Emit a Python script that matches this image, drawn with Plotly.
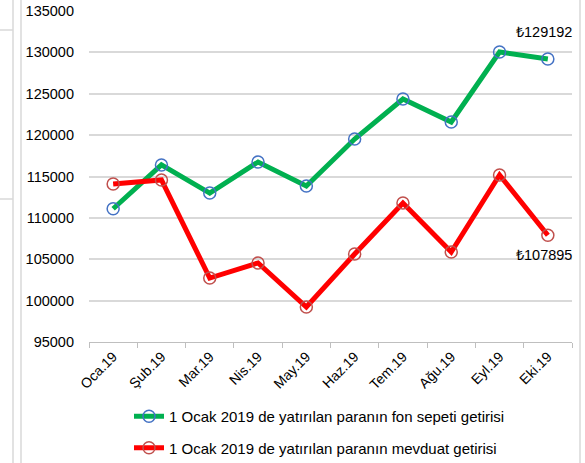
import plotly.graph_objects as go

months = ["Oca.19", "Şub.19", "Mar.19", "Nis.19", "May.19", "Haz.19", "Tem.19", "Ağu.19", "Eyl.19", "Eki.19"]
fon_sepeti = [111100, 116400, 113000, 116750, 113850, 119530, 124370, 121590, 130050, 129192]
mevduat = [114100, 114580, 102730, 104550, 99230, 105630, 111800, 105880, 115180, 107895]
name_fon = "1 Ocak 2019 de yatırılan paranın fon sepeti getirisi"
name_mev = "1 Ocak 2019 de yatırılan paranın mevduat getirisi"
y_ticks = [95000, 100000, 105000, 110000, 115000, 120000, 125000, 130000, 135000]

FONT = "Liberation Sans, Arial, sans-serif"

fig = go.Figure()
fig.add_trace(go.Scatter(
    x=months, y=fon_sepeti, name=name_fon, mode="lines+markers",
    line=dict(color="#00b050", width=5),
    marker=dict(symbol="circle-open", size=12, color="#4472c4", line=dict(width=1.5, color="#4472c4")),
    legendgroup="a",
))
fig.add_trace(go.Scatter(
    x=months, y=mevduat, name=name_mev, mode="lines+markers",
    line=dict(color="#ff0000", width=5),
    marker=dict(symbol="circle-open", size=12, color="#c0504d", line=dict(width=1.5, color="#c0504d")),
    legendgroup="b",
))

fig.add_annotation(x=months[-1], y=fon_sepeti[-1], text="₺" + str(fon_sepeti[-1]),
                   showarrow=False, xanchor="center", yanchor="bottom", yshift=17, xshift=-4,
                   font=dict(family=FONT, size=14.5, color="#000000"))
fig.add_annotation(x=months[-1], y=mevduat[-1], text="₺" + str(mevduat[-1]),
                   showarrow=False, xanchor="center", yanchor="top", yshift=-10, xshift=-4,
                   font=dict(family=FONT, size=14.5, color="#000000"))

# spreadsheet frame lines
for x0 in [13, 21, 580]:
    fig.add_shape(type="line", xref="paper", yref="paper",
                  x0=(x0 - 89) / 483, x1=(x0 - 89) / 483, y0=-2, y1=2,
                  line=dict(color="#d9d9d9", width=1.5), layer="below")
for yy in [30, 199]:
    fig.add_shape(type="line", xref="paper", yref="paper",
                  x0=(0 - 89) / 483, x1=(13 - 89) / 483,
                  y0=(342 - yy) / 331, y1=(342 - yy) / 331,
                  line=dict(color="#d9d9d9", width=1.5), layer="below")

fig.update_layout(
    width=585, height=463,
    margin=dict(l=89, r=13, t=11, b=121, autoexpand=False),
    paper_bgcolor="white", plot_bgcolor="white",
    font=dict(family=FONT, size=14, color="#000000"),
    showlegend=True,
    legend=dict(orientation="v", x=(117 - 89 + 12) / 483, xanchor="left",
                y=-(400 - 342) / 331, yanchor="top",
                traceorder="grouped", tracegroupgap=9,
                font=dict(family=FONT, size=15, color="#000000"),
                bgcolor="rgba(0,0,0,0)"),
    xaxis=dict(type="category", range=[-0.5, len(months) - 0.5], tickangle=-45, showgrid=False,
               automargin=False, showline=True, linecolor="#bfbfbf", linewidth=1,
               ticks="outside", tickson="boundaries", ticklen=5, tickcolor="#bfbfbf",
               tickfont=dict(family=FONT, size=14, color="#000000")),
    yaxis=dict(range=[95000, 135000], tickvals=y_ticks, ticktext=[str(v) for v in y_ticks],
               showgrid=True, gridcolor="#d9d9d9", gridwidth=1.5, zeroline=False, automargin=False,
               showline=False, ticks="", ticklabelstandoff=14,
               tickfont=dict(family=FONT, size=14.5, color="#000000")),
)

fig.write_html("out.html", config={"displayModeBar": False},
               post_script="document.body.style.margin='0';document.body.style.overflow='hidden';")
